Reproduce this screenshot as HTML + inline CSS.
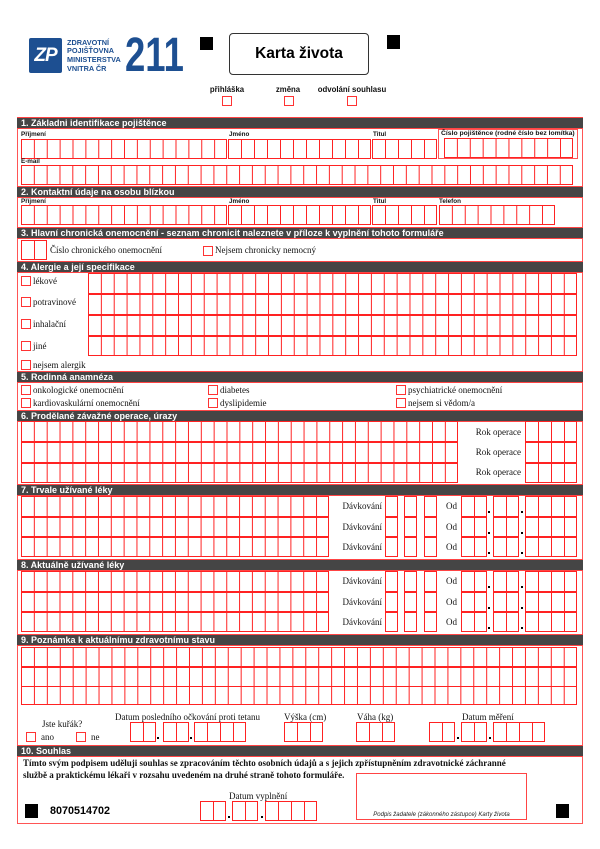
<!DOCTYPE html>
<html><head><meta charset="utf-8">
<style>
*{margin:0;padding:0}
body{width:600px;height:849px;background:#fff;position:relative;overflow:hidden;font-family:"Liberation Sans",Arial,sans-serif;color:#111}
div{position:absolute;box-sizing:border-box}
.c{border:1px solid #f22;border-left:none;background-image:linear-gradient(to right,#f22 1px,transparent 1px);background-repeat:repeat-x}
.k{width:10px;height:10px;border:1px solid #f33}
.h{left:17px;width:566px;height:12px;background:#454545;border-top:1px solid #f44;border-bottom:1px solid #f44;color:#fff;font-weight:bold;font-size:9px;line-height:10px;padding-left:4px;white-space:nowrap}
.s{font-family:"Liberation Serif",serif;font-size:9px;line-height:10px;white-space:nowrap;color:#111}
.l{font-weight:bold;font-size:6.3px;line-height:6px;white-space:nowrap;color:#111}
.sq{background:#000}
.d{width:2px;height:2px;background:#000}
.r{text-align:right}
</style></head><body>

<!-- Header -->
<div style="left:29px;top:38px;width:33px;height:35px;background:#1d4f91;border-radius:2px;color:#fff;font-weight:bold;font-style:italic;font-size:19px;line-height:35px;text-align:center;letter-spacing:-1px">ZP</div>
<div style="left:67px;top:38.6px;font-size:7.3px;line-height:8.7px;font-weight:bold;color:#1d4f91;white-space:nowrap">ZDRAVOTNÍ<br>POJIŠŤOVNA<br>MINISTERSTVA<br>VNITRA ČR</div>
<div style="left:125px;top:32px;font-size:48px;line-height:48px;font-weight:bold;color:#1d4f91;transform:scaleX(0.76);transform-origin:0 0;white-space:nowrap">211</div>
<div class="sq" style="left:200px;top:37px;width:13px;height:13px"></div>
<div style="left:229px;top:33px;width:140px;height:42px;border:1px solid #333;border-radius:4px;font-weight:bold;font-size:15.5px;line-height:40px;text-align:center;color:#000">Karta života</div>
<div class="sq" style="left:387px;top:35px;width:13px;height:14px"></div>

<div style="left:197px;top:86px;width:60px;text-align:center;font-size:7.8px;line-height:8px;font-weight:bold">přihláška</div>
<div style="left:258px;top:86px;width:60px;text-align:center;font-size:7.8px;line-height:8px;font-weight:bold">změna</div>
<div style="left:302px;top:86px;width:100px;text-align:center;font-size:7.8px;line-height:8px;font-weight:bold">odvolání souhlasu</div>
<div class="k" style="left:222px;top:96px"></div>
<div class="k" style="left:284px;top:96px"></div>
<div class="k" style="left:347px;top:96px"></div>

<!-- Outer frame -->
<div style="left:17px;top:117px;width:566px;height:707px;border:1px solid #f55"></div>

<!-- Section 1 -->
<div class="h" style="top:117px">1. Základni identifikace pojištěnce</div>
<div class="l" style="left:21px;top:132px">Příjmení</div>
<div class="l" style="left:229px;top:132px">Jméno</div>
<div class="l" style="left:373px;top:132px">Titul</div>
<div style="left:438px;top:129px;width:140px;height:30px;border:1px solid #f55"></div>
<div style="left:441px;top:130px;font-size:6.8px;line-height:7px;font-weight:bold;white-space:nowrap">Číslo pojištěnce (rodné číslo bez lomítka)</div>
<div class="c" style="left:21px;top:139px;width:206px;height:20px;background-size:12.875px 100%"></div>
<div class="c" style="left:228px;top:139px;width:143px;height:20px;background-size:13px 100%"></div>
<div class="c" style="left:372px;top:139px;width:65px;height:20px;background-size:13px 100%"></div>
<div class="c" style="left:444px;top:138px;width:129px;height:20px;background-size:12.9px 100%"></div>
<div class="l" style="left:21px;top:159px">E-mail</div>
<div class="c" style="left:21px;top:165px;width:552px;height:20px;background-size:12.837px 100%"></div>

<!-- Section 2 -->
<div class="h" style="top:186px">2. Kontaktní údaje na osobu blízkou</div>
<div class="l" style="left:21px;top:199px">Příjmení</div>
<div class="l" style="left:229px;top:199px">Jméno</div>
<div class="l" style="left:373px;top:199px">Titul</div>
<div class="l" style="left:439px;top:199px">Telefon</div>
<div class="c" style="left:21px;top:205px;width:206px;height:20px;background-size:12.875px 100%"></div>
<div class="c" style="left:228px;top:205px;width:143px;height:20px;background-size:13px 100%"></div>
<div class="c" style="left:372px;top:205px;width:65px;height:20px;background-size:13px 100%"></div>
<div class="c" style="left:439px;top:205px;width:116px;height:20px;background-size:12.889px 100%"></div>

<!-- Section 3 -->
<div class="h" style="top:227px">3. Hlavní chronická onemocnění - seznam chronicit naleznete v příloze k vyplnění tohoto formuláře</div>
<div class="c" style="left:21px;top:240px;width:26px;height:20px;background-size:13px 100%"></div>
<div class="s" style="left:50px;top:245px">Číslo chronického onemocnění</div>
<div class="k" style="left:203px;top:246px"></div>
<div class="s" style="left:215px;top:245px">Nejsem chronicky nemocný</div>

<!-- Section 4 -->
<div class="h" style="top:261px">4. Alergie a její specifikace</div>
<div class="c" style="left:88px;top:273px;width:489px;height:21px;background-size:12.868px 100%"></div>
<div class="c" style="left:88px;top:294px;width:489px;height:21px;background-size:12.868px 100%"></div>
<div class="c" style="left:88px;top:315px;width:489px;height:21px;background-size:12.868px 100%"></div>
<div class="c" style="left:88px;top:336px;width:489px;height:20px;background-size:12.868px 100%"></div>
<div class="k" style="left:21px;top:276px"></div><div class="s" style="left:33px;top:276px">lékové</div>
<div class="k" style="left:21px;top:297px"></div><div class="s" style="left:33px;top:297px">potravinové</div>
<div class="k" style="left:21px;top:319px"></div><div class="s" style="left:33px;top:319px">inhalační</div>
<div class="k" style="left:21px;top:341px"></div><div class="s" style="left:33px;top:341px">jiné</div>
<div class="k" style="left:21px;top:360px"></div><div class="s" style="left:33px;top:360px">nejsem alergik</div>

<!-- Section 5 -->
<div class="h" style="top:371px">5. Rodinná anamnéza</div>
<div class="k" style="left:21px;top:385px"></div><div class="s" style="left:33px;top:385px">onkologické onemocnění</div>
<div class="k" style="left:208px;top:385px"></div><div class="s" style="left:220px;top:385px">diabetes</div>
<div class="k" style="left:396px;top:385px"></div><div class="s" style="left:408px;top:385px">psychiatrické onemocnění</div>
<div class="k" style="left:21px;top:398px"></div><div class="s" style="left:33px;top:398px">kardiovaskulární onemocnění</div>
<div class="k" style="left:208px;top:398px"></div><div class="s" style="left:220px;top:398px">dyslipidemie</div>
<div class="k" style="left:396px;top:398px"></div><div class="s" style="left:408px;top:398px">nejsem si vědom/a</div>

<!-- Section 6 -->
<div class="h" style="top:410px">6. Prodělané závažné operace, úrazy</div>
<div class="c" style="left:21px;top:421px;width:437px;height:21px;background-size:12.853px 100%"></div>
<div class="c" style="left:21px;top:442px;width:437px;height:21px;background-size:12.853px 100%"></div>
<div class="c" style="left:21px;top:463px;width:437px;height:20px;background-size:12.853px 100%"></div>
<div class="s r" style="left:460px;width:61px;top:427px">Rok operace</div>
<div class="s r" style="left:460px;width:61px;top:447px">Rok operace</div>
<div class="s r" style="left:460px;width:61px;top:467px">Rok operace</div>
<div class="c" style="left:525px;top:421px;width:52px;height:21px;background-size:13px 100%"></div>
<div class="c" style="left:525px;top:442px;width:52px;height:21px;background-size:13px 100%"></div>
<div class="c" style="left:525px;top:463px;width:52px;height:20px;background-size:13px 100%"></div>

<!-- Section 7 -->
<div class="h" style="top:484px">7. Trvale užívané léky</div>
<div class="c" style="left:21px;top:496px;width:308px;height:21px;background-size:12.833px 100%"></div>
<div class="s r" style="left:320px;width:62px;top:501px">Dávkování</div>
<div class="c" style="left:385px;top:496px;width:13px;height:21px;background-size:13px 100%"></div>
<div class="c" style="left:404px;top:496px;width:13px;height:21px;background-size:13px 100%"></div>
<div class="c" style="left:424px;top:496px;width:13px;height:21px;background-size:13px 100%"></div>
<div class="s" style="left:446px;top:501px">Od</div>
<div class="c" style="left:461px;top:496px;width:26px;height:21px;background-size:13px 100%"></div>
<div class="d" style="left:488px;top:511px"></div>
<div class="c" style="left:493px;top:496px;width:26px;height:21px;background-size:13px 100%"></div>
<div class="d" style="left:521px;top:511px"></div>
<div class="c" style="left:525px;top:496px;width:52px;height:21px;background-size:13px 100%"></div>

<div class="c" style="left:21px;top:517px;width:308px;height:20px;background-size:12.833px 100%"></div>
<div class="s r" style="left:320px;width:62px;top:522px">Dávkování</div>
<div class="c" style="left:385px;top:517px;width:13px;height:20px;background-size:13px 100%"></div>
<div class="c" style="left:404px;top:517px;width:13px;height:20px;background-size:13px 100%"></div>
<div class="c" style="left:424px;top:517px;width:13px;height:20px;background-size:13px 100%"></div>
<div class="s" style="left:446px;top:522px">Od</div>
<div class="c" style="left:461px;top:517px;width:26px;height:20px;background-size:13px 100%"></div>
<div class="d" style="left:488px;top:532px"></div>
<div class="c" style="left:493px;top:517px;width:26px;height:20px;background-size:13px 100%"></div>
<div class="d" style="left:521px;top:532px"></div>
<div class="c" style="left:525px;top:517px;width:52px;height:20px;background-size:13px 100%"></div>

<div class="c" style="left:21px;top:537px;width:308px;height:20px;background-size:12.833px 100%"></div>
<div class="s r" style="left:320px;width:62px;top:542px">Dávkování</div>
<div class="c" style="left:385px;top:537px;width:13px;height:20px;background-size:13px 100%"></div>
<div class="c" style="left:404px;top:537px;width:13px;height:20px;background-size:13px 100%"></div>
<div class="c" style="left:424px;top:537px;width:13px;height:20px;background-size:13px 100%"></div>
<div class="s" style="left:446px;top:542px">Od</div>
<div class="c" style="left:461px;top:537px;width:26px;height:20px;background-size:13px 100%"></div>
<div class="d" style="left:488px;top:552px"></div>
<div class="c" style="left:493px;top:537px;width:26px;height:20px;background-size:13px 100%"></div>
<div class="d" style="left:521px;top:552px"></div>
<div class="c" style="left:525px;top:537px;width:52px;height:20px;background-size:13px 100%"></div>

<!-- Section 8 -->
<div class="h" style="top:559px">8. Aktuálně užívané léky</div>
<div class="c" style="left:21px;top:571px;width:308px;height:21px;background-size:12.833px 100%"></div>
<div class="s r" style="left:320px;width:62px;top:576px">Dávkování</div>
<div class="c" style="left:385px;top:571px;width:13px;height:21px;background-size:13px 100%"></div>
<div class="c" style="left:404px;top:571px;width:13px;height:21px;background-size:13px 100%"></div>
<div class="c" style="left:424px;top:571px;width:13px;height:21px;background-size:13px 100%"></div>
<div class="s" style="left:446px;top:576px">Od</div>
<div class="c" style="left:461px;top:571px;width:26px;height:21px;background-size:13px 100%"></div>
<div class="d" style="left:488px;top:586px"></div>
<div class="c" style="left:493px;top:571px;width:26px;height:21px;background-size:13px 100%"></div>
<div class="d" style="left:521px;top:586px"></div>
<div class="c" style="left:525px;top:571px;width:52px;height:21px;background-size:13px 100%"></div>

<div class="c" style="left:21px;top:592px;width:308px;height:20px;background-size:12.833px 100%"></div>
<div class="s r" style="left:320px;width:62px;top:597px">Dávkování</div>
<div class="c" style="left:385px;top:592px;width:13px;height:20px;background-size:13px 100%"></div>
<div class="c" style="left:404px;top:592px;width:13px;height:20px;background-size:13px 100%"></div>
<div class="c" style="left:424px;top:592px;width:13px;height:20px;background-size:13px 100%"></div>
<div class="s" style="left:446px;top:597px">Od</div>
<div class="c" style="left:461px;top:592px;width:26px;height:20px;background-size:13px 100%"></div>
<div class="d" style="left:488px;top:607px"></div>
<div class="c" style="left:493px;top:592px;width:26px;height:20px;background-size:13px 100%"></div>
<div class="d" style="left:521px;top:607px"></div>
<div class="c" style="left:525px;top:592px;width:52px;height:20px;background-size:13px 100%"></div>

<div class="c" style="left:21px;top:612px;width:308px;height:20px;background-size:12.833px 100%"></div>
<div class="s r" style="left:320px;width:62px;top:617px">Dávkování</div>
<div class="c" style="left:385px;top:612px;width:13px;height:20px;background-size:13px 100%"></div>
<div class="c" style="left:404px;top:612px;width:13px;height:20px;background-size:13px 100%"></div>
<div class="c" style="left:424px;top:612px;width:13px;height:20px;background-size:13px 100%"></div>
<div class="s" style="left:446px;top:617px">Od</div>
<div class="c" style="left:461px;top:612px;width:26px;height:20px;background-size:13px 100%"></div>
<div class="d" style="left:488px;top:627px"></div>
<div class="c" style="left:493px;top:612px;width:26px;height:20px;background-size:13px 100%"></div>
<div class="d" style="left:521px;top:627px"></div>
<div class="c" style="left:525px;top:612px;width:52px;height:20px;background-size:13px 100%"></div>

<!-- Section 9 -->
<div class="h" style="top:634px">9. Poznámka k aktuálnímu zdravotnímu stavu</div>
<div class="c" style="left:21px;top:647px;width:556px;height:20px;background-size:12.93px 100%"></div>
<div class="c" style="left:21px;top:667px;width:556px;height:20px;background-size:12.93px 100%"></div>
<div class="c" style="left:21px;top:686px;width:556px;height:19px;background-size:12.93px 100%"></div>

<div class="s" style="left:42px;top:719px">Jste kuřák?</div>
<div class="k" style="left:26px;top:732px"></div><div class="s" style="left:41px;top:732px">ano</div>
<div class="k" style="left:76px;top:732px"></div><div class="s" style="left:91px;top:732px">ne</div>

<div class="s" style="left:115px;top:712px">Datum posledního očkování proti tetanu</div>
<div class="c" style="left:130px;top:722px;width:26px;height:20px;background-size:13px 100%"></div>
<div class="d" style="left:157px;top:737px"></div>
<div class="c" style="left:163px;top:722px;width:26px;height:20px;background-size:13px 100%"></div>
<div class="d" style="left:190px;top:737px"></div>
<div class="c" style="left:194px;top:722px;width:52px;height:20px;background-size:13px 100%"></div>

<div class="s" style="left:284px;top:712px">Výška (cm)</div>
<div class="c" style="left:284px;top:722px;width:39px;height:20px;background-size:13px 100%"></div>
<div class="s" style="left:357px;top:712px">Váha (kg)</div>
<div class="c" style="left:356px;top:722px;width:39px;height:20px;background-size:13px 100%"></div>

<div class="s" style="left:462px;top:712px">Datum měření</div>
<div class="c" style="left:429px;top:722px;width:26px;height:20px;background-size:13px 100%"></div>
<div class="d" style="left:457px;top:737px"></div>
<div class="c" style="left:461px;top:722px;width:26px;height:20px;background-size:13px 100%"></div>
<div class="d" style="left:489px;top:737px"></div>
<div class="c" style="left:493px;top:722px;width:52px;height:20px;background-size:13px 100%"></div>

<!-- Section 10 -->
<div class="h" style="top:745px">10. Souhlas</div>
<div style="left:23px;top:757px;font-family:'Liberation Serif',serif;font-weight:bold;font-size:9px;line-height:12px;white-space:nowrap;color:#111">Tímto svým podpisem uděluji souhlas se zpracováním těchto osobních údajů a s jejich zpřístupněním zdravotnické záchranné<br>službě a praktickému lékaři v rozsahu uvedeném na druhé straně tohoto formuláře.</div>
<div class="sq" style="left:25px;top:804px;width:13px;height:14px"></div>
<div style="left:50px;top:805px;font-weight:bold;font-size:10.8px;line-height:12px;color:#000">8070514702</div>

<div class="s" style="left:229px;top:791px">Datum vyplnění</div>
<div class="c" style="left:200px;top:801px;width:26px;height:20px;background-size:13px 100%"></div>
<div class="d" style="left:228px;top:816px"></div>
<div class="c" style="left:232px;top:801px;width:26px;height:20px;background-size:13px 100%"></div>
<div class="d" style="left:261px;top:816px"></div>
<div class="c" style="left:265px;top:801px;width:52px;height:20px;background-size:13px 100%"></div>

<div style="left:356px;top:773px;width:171px;height:47px;border:1px solid #f44"></div>
<div style="left:356px;top:812px;width:171px;text-align:center;font-style:italic;font-size:6px;line-height:6px;white-space:nowrap;color:#222">Podpis žadatele (zákonného zástupce) Karty života</div>
<div class="sq" style="left:556px;top:804px;width:13px;height:14px"></div>

</body></html>
